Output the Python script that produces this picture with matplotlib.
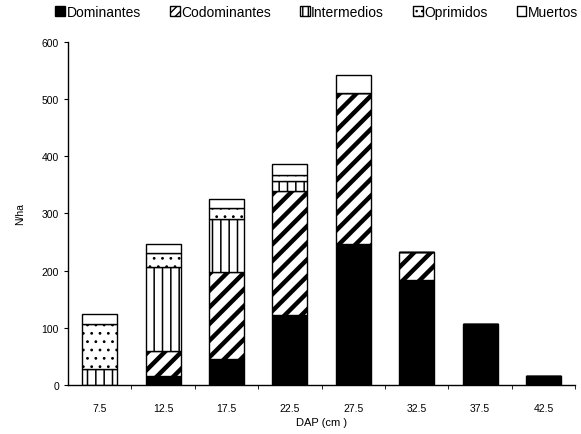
import numpy as np
import matplotlib

matplotlib.use("Agg")
import matplotlib.pyplot as plt  # noqa: E402
from matplotlib.patches import Patch  # noqa: E402

# diameter classes (cm) and stems per hectare by crown class
dap = ["7.5", "12.5", "17.5", "22.5", "27.5", "32.5", "37.5", "42.5"]
dominantes = [0, 16, 46, 123, 247, 184, 107, 16]
codominantes = [0, 44, 152, 216, 264, 48, 0, 0]
intermedios = [28, 147, 93, 17, 0, 0, 0, 0]
oprimidos = [79, 23, 18, 11, 0, 0, 0, 0]
muertos = [17, 17, 16, 19, 31, 0, 0, 0]

plt.rcParams.update({
    "font.family": "Liberation Sans", "font.size": 7.5,
    "axes.linewidth": 1.0, "figure.facecolor": "white",
})

fig = plt.figure(figsize=(5.81, 4.35), dpi=100)
ax = fig.add_axes([0.117, 0.113, 0.873, 0.788])

x = np.arange(len(dap))
w = 0.55
series = [
    (dominantes, "Dominantes", "black", None, 1.0, None),
    (codominantes, "Codominantes", "white", "//", 3.2, "////"),
    (intermedios, "Intermedios", "white", "||", 1.1, "|||"),
    (oprimidos, "Oprimidos", "white", "..", 0.8, "..."),
    (muertos, "Muertos", "white", None, 1.0, None),
]
bottom = np.zeros(len(dap))
handles = []
for vals, lab, fc, hatch, hlw, leg_hatch in series:
    plt.rcParams["hatch.linewidth"] = hlw
    bars = ax.bar(x, vals, w, bottom=bottom, color=fc, edgecolor="black",
                  linewidth=1.0, hatch=hatch)
    for b in bars:
        if hasattr(b, "set_hatch_linewidth"):
            b.set_hatch_linewidth(hlw)
    h = Patch(facecolor=fc, edgecolor="black", linewidth=1.0, hatch=leg_hatch, label=lab)
    if hasattr(h, "set_hatch_linewidth"):
        h.set_hatch_linewidth(1.0)
    handles.append(h)
    bottom += np.array(vals)
plt.rcParams["hatch.linewidth"] = 1.0

ax.set_xlim(-0.5, 7.5)
ax.set_ylim(0, 600)
ax.set_yticks(range(0, 601, 100))
ax.set_xticks(x)
ax.set_xticklabels(dap)
ax.set_xticks(np.arange(0.5, 8, 1), minor=True)
ax.tick_params(axis="x", which="major", length=0, pad=13)
ax.tick_params(axis="x", which="minor", length=3, direction="out")
ax.tick_params(axis="y", length=3, direction="out")
for s in ("top", "right"):
    ax.spines[s].set_visible(False)
ax.set_xlabel("DAP (cm )", labelpad=3, fontsize=8)
ax.set_ylabel("N/ha", labelpad=12)

fig.legend(handles=handles, loc="upper center", bbox_to_anchor=(0.545, 1.005), ncol=5,
           frameon=False, fontsize=10, handlelength=0.7, handleheight=0.7,
           handletextpad=0.1, columnspacing=2.1, borderaxespad=0.2)

fig.savefig("out.png", dpi=100)
